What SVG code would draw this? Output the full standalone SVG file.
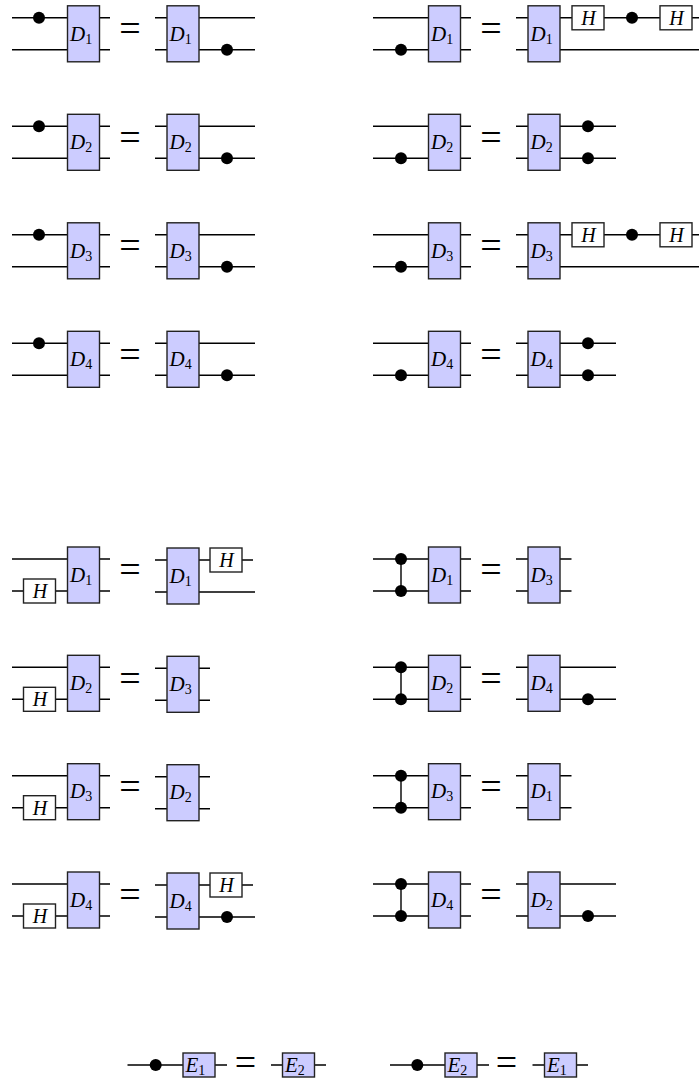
<svg xmlns="http://www.w3.org/2000/svg" width="699" height="1083" viewBox="0 0 699 1083">
<style>
.w{stroke:#000;stroke-width:1.4;fill:none}
.g{fill:#ccccff;stroke:#222;stroke-width:1.4}
.h{fill:#fff;stroke:#222;stroke-width:1.4}
.d{fill:#000}
.t{font-family:"Liberation Serif",serif;font-style:italic;font-size:21px;fill:#000}
.hl{text-anchor:middle;font-size:20px}
.s{font-style:normal;font-size:14px}
.eq{font-family:"Liberation Serif",serif;font-size:38px;text-anchor:middle;fill:#000}
</style>
<rect width="699" height="1083" fill="#fff"/>
<g id="wires" class="w">
<path d="M12 17.8H67.5M12 49.8H67.5M99.5 17.8H110M99.5 49.8H110M155 17.8H167M155 49.8H167M199 17.8H255M199 49.8H255"/>
<path d="M12 126.3H67.5M12 158.3H67.5M99.5 126.3H110M99.5 158.3H110M155 126.3H167M155 158.3H167M199 126.3H255M199 158.3H255"/>
<path d="M12 234.8H67.5M12 266.8H67.5M99.5 234.8H110M99.5 266.8H110M155 234.8H167M155 266.8H167M199 234.8H255M199 266.8H255"/>
<path d="M12 343.3H67.5M12 375.3H67.5M99.5 343.3H110M99.5 375.3H110M155 343.3H167M155 375.3H167M199 343.3H255M199 375.3H255"/>
<path d="M373 17.8H428.5M373 49.8H428.5M460.5 17.8H471M460.5 49.8H471M516 17.8H528M516 49.8H528M560 17.8H572M604 17.8H660M692 17.8H700M560 49.8H700"/>
<path d="M373 126.3H428.5M373 158.3H428.5M460.5 126.3H471M460.5 158.3H471M516 126.3H528M516 158.3H528M560 126.3H616M560 158.3H616"/>
<path d="M373 234.8H428.5M373 266.8H428.5M460.5 234.8H471M460.5 266.8H471M516 234.8H528M516 266.8H528M560 234.8H572M604 234.8H660M692 234.8H700M560 266.8H700"/>
<path d="M373 343.3H428.5M373 375.3H428.5M460.5 343.3H471M460.5 375.3H471M516 343.3H528M516 375.3H528M560 343.3H616M560 375.3H616"/>
<path d="M12 559H67.5M12 591H23.5M55.5 591H67.5M99.5 559H110M99.5 591H110M155 560H167M155 592H167M199 560H210M242 560H253M199 592H255"/>
<path d="M12 667.3H67.5M12 699.3H23.5M55.5 699.3H67.5M99.5 667.3H110M99.5 699.3H110M155 668.3H167M155 700.3H167M199 668.3H210M199 700.3H210"/>
<path d="M12 775.7H67.5M12 807.7H23.5M55.5 807.7H67.5M99.5 775.7H110M99.5 807.7H110M155 776.7H167M155 808.7H167M199 776.7H210M199 808.7H210"/>
<path d="M12 884H67.5M12 916H23.5M55.5 916H67.5M99.5 884H110M99.5 916H110M155 885H167M155 917H167M199 885H210M242 885H253M199 917H255"/>
<path d="M373 559H428.5M373 591H428.5M401 559V591M460.5 559H471M460.5 591H471M516 559H528M516 591H528M560 559H571.5M560 591H571.5"/>
<path d="M373 667.3H428.5M373 699.3H428.5M401 667.3V699.3M460.5 667.3H471M460.5 699.3H471M516 667.3H528M516 699.3H528M560 667.3H616M560 699.3H616"/>
<path d="M373 775.7H428.5M373 807.7H428.5M401 775.7V807.7M460.5 775.7H471M460.5 807.7H471M516 775.7H528M516 807.7H528M560 775.7H571.5M560 807.7H571.5"/>
<path d="M373 884H428.5M373 916H428.5M401 884V916M460.5 884H471M460.5 916H471M516 884H528M516 916H528M560 884H616M560 916H616"/>
<path d="M127.5 1065H183M215 1065H227M271 1065H282.5M314.5 1065H326"/>
<path d="M390 1065H445M477 1065H489M532.5 1065H544.5M576.5 1065H588"/>
</g>

<!-- top-left -->
<g id="eq-tl1">
<circle id="tl1-c1" class="d" cx="39" cy="17.8" r="6"/>
<g id="tl1-D1a"><rect class="g" x="67.5" y="5.8" width="32" height="56"/><text class="t" x="70" y="40.5">D<tspan class="s" dy="3">1</tspan></text></g>
<text class="eq" x="130" y="41">=</text>
<g id="tl1-D1b"><rect class="g" x="167" y="5.8" width="32" height="56"/><text class="t" x="169.5" y="40.5">D<tspan class="s" dy="3">1</tspan></text></g>
<circle id="tl1-c2" class="d" cx="227" cy="49.8" r="6"/>
</g>
<g id="eq-tl2">
<circle id="tl2-c1" class="d" cx="39" cy="126.3" r="6"/>
<g id="tl2-D2a"><rect class="g" x="67.5" y="114.3" width="32" height="56"/><text class="t" x="70" y="149">D<tspan class="s" dy="3">2</tspan></text></g>
<text class="eq" x="130" y="149.5">=</text>
<g id="tl2-D2b"><rect class="g" x="167" y="114.3" width="32" height="56"/><text class="t" x="169.5" y="149">D<tspan class="s" dy="3">2</tspan></text></g>
<circle id="tl2-c2" class="d" cx="227" cy="158.3" r="6"/>
</g>
<g id="eq-tl3">
<circle id="tl3-c1" class="d" cx="39" cy="234.8" r="6"/>
<g id="tl3-D3a"><rect class="g" x="67.5" y="222.8" width="32" height="56"/><text class="t" x="70" y="257.5">D<tspan class="s" dy="3">3</tspan></text></g>
<text class="eq" x="130" y="258">=</text>
<g id="tl3-D3b"><rect class="g" x="167" y="222.8" width="32" height="56"/><text class="t" x="169.5" y="257.5">D<tspan class="s" dy="3">3</tspan></text></g>
<circle id="tl3-c2" class="d" cx="227" cy="266.8" r="6"/>
</g>
<g id="eq-tl4">
<circle id="tl4-c1" class="d" cx="39" cy="343.3" r="6"/>
<g id="tl4-D4a"><rect class="g" x="67.5" y="331.3" width="32" height="56"/><text class="t" x="70" y="366">D<tspan class="s" dy="3">4</tspan></text></g>
<text class="eq" x="130" y="366.5">=</text>
<g id="tl4-D4b"><rect class="g" x="167" y="331.3" width="32" height="56"/><text class="t" x="169.5" y="366">D<tspan class="s" dy="3">4</tspan></text></g>
<circle id="tl4-c2" class="d" cx="227" cy="375.3" r="6"/>
</g>

<!-- top-right -->
<g id="eq-tr1">
<circle id="tr1-c1" class="d" cx="401" cy="49.8" r="6"/>
<g id="tr1-D1a"><rect class="g" x="428.5" y="5.8" width="32" height="56"/><text class="t" x="431" y="40.5">D<tspan class="s" dy="3">1</tspan></text></g>
<text class="eq" x="491" y="41">=</text>
<g id="tr1-D1b"><rect class="g" x="528" y="5.8" width="32" height="56"/><text class="t" x="530.5" y="40.5">D<tspan class="s" dy="3">1</tspan></text></g>
<g id="tr1-H1"><rect class="h" x="572" y="5.8" width="32" height="24"/><text class="t hl" x="588.5" y="24.8">H</text></g>
<circle id="tr1-c2" class="d" cx="632" cy="17.8" r="6"/>
<g id="tr1-H2"><rect class="h" x="660" y="5.8" width="32" height="24"/><text class="t hl" x="676.5" y="24.8">H</text></g>
</g>
<g id="eq-tr2">
<circle id="tr2-c1" class="d" cx="401" cy="158.3" r="6"/>
<g id="tr2-D2a"><rect class="g" x="428.5" y="114.3" width="32" height="56"/><text class="t" x="431" y="149">D<tspan class="s" dy="3">2</tspan></text></g>
<text class="eq" x="491" y="149.5">=</text>
<g id="tr2-D2b"><rect class="g" x="528" y="114.3" width="32" height="56"/><text class="t" x="530.5" y="149">D<tspan class="s" dy="3">2</tspan></text></g>
<circle id="tr2-c2" class="d" cx="588" cy="126.3" r="6"/>
<circle id="tr2-c3" class="d" cx="588" cy="158.3" r="6"/>
</g>
<g id="eq-tr3">
<circle id="tr3-c1" class="d" cx="401" cy="266.8" r="6"/>
<g id="tr3-D3a"><rect class="g" x="428.5" y="222.8" width="32" height="56"/><text class="t" x="431" y="257.5">D<tspan class="s" dy="3">3</tspan></text></g>
<text class="eq" x="491" y="258">=</text>
<g id="tr3-D3b"><rect class="g" x="528" y="222.8" width="32" height="56"/><text class="t" x="530.5" y="257.5">D<tspan class="s" dy="3">3</tspan></text></g>
<g id="tr3-H1"><rect class="h" x="572" y="222.8" width="32" height="24"/><text class="t hl" x="588.5" y="241.8">H</text></g>
<circle id="tr3-c2" class="d" cx="632" cy="234.8" r="6"/>
<g id="tr3-H2"><rect class="h" x="660" y="222.8" width="32" height="24"/><text class="t hl" x="676.5" y="241.8">H</text></g>
</g>
<g id="eq-tr4">
<circle id="tr4-c1" class="d" cx="401" cy="375.3" r="6"/>
<g id="tr4-D4a"><rect class="g" x="428.5" y="331.3" width="32" height="56"/><text class="t" x="431" y="366">D<tspan class="s" dy="3">4</tspan></text></g>
<text class="eq" x="491" y="366.5">=</text>
<g id="tr4-D4b"><rect class="g" x="528" y="331.3" width="32" height="56"/><text class="t" x="530.5" y="366">D<tspan class="s" dy="3">4</tspan></text></g>
<circle id="tr4-c2" class="d" cx="588" cy="343.3" r="6"/>
<circle id="tr4-c3" class="d" cx="588" cy="375.3" r="6"/>
</g>

<!-- bottom-left -->
<g id="eq-bl1">
<g id="bl1-H1"><rect class="h" x="23.5" y="579" width="32" height="24"/><text class="t hl" x="40" y="598">H</text></g>
<g id="bl1-D1a"><rect class="g" x="67.5" y="547" width="32" height="56"/><text class="t" x="70" y="581.7">D<tspan class="s" dy="3">1</tspan></text></g>
<text class="eq" x="130" y="582.2">=</text>
<g id="bl1-D1b"><rect class="g" x="167" y="548" width="32" height="56"/><text class="t" x="169.5" y="582.7">D<tspan class="s" dy="3">1</tspan></text></g>
<g id="bl1-H2"><rect class="h" x="210" y="548" width="32" height="24"/><text class="t hl" x="226.5" y="567">H</text></g>
</g>
<g id="eq-bl2">
<g id="bl2-H1"><rect class="h" x="23.5" y="687.3" width="32" height="24"/><text class="t hl" x="40" y="706.3">H</text></g>
<g id="bl2-D2"><rect class="g" x="67.5" y="655.3" width="32" height="56"/><text class="t" x="70" y="690">D<tspan class="s" dy="3">2</tspan></text></g>
<text class="eq" x="130" y="690.5">=</text>
<g id="bl2-D3"><rect class="g" x="167" y="656.3" width="32" height="56"/><text class="t" x="169.5" y="691">D<tspan class="s" dy="3">3</tspan></text></g>
</g>
<g id="eq-bl3">
<g id="bl3-H1"><rect class="h" x="23.5" y="795.7" width="32" height="24"/><text class="t hl" x="40" y="814.7">H</text></g>
<g id="bl3-D3"><rect class="g" x="67.5" y="763.7" width="32" height="56"/><text class="t" x="70" y="798.4">D<tspan class="s" dy="3">3</tspan></text></g>
<text class="eq" x="130" y="798.9">=</text>
<g id="bl3-D2"><rect class="g" x="167" y="764.7" width="32" height="56"/><text class="t" x="169.5" y="799.4">D<tspan class="s" dy="3">2</tspan></text></g>
</g>
<g id="eq-bl4">
<g id="bl4-H1"><rect class="h" x="23.5" y="904" width="32" height="24"/><text class="t hl" x="40" y="923">H</text></g>
<g id="bl4-D4a"><rect class="g" x="67.5" y="872" width="32" height="56"/><text class="t" x="70" y="906.7">D<tspan class="s" dy="3">4</tspan></text></g>
<text class="eq" x="130" y="907.2">=</text>
<g id="bl4-D4b"><rect class="g" x="167" y="873" width="32" height="56"/><text class="t" x="169.5" y="907.7">D<tspan class="s" dy="3">4</tspan></text></g>
<g id="bl4-H2"><rect class="h" x="210" y="873" width="32" height="24"/><text class="t hl" x="226.5" y="892">H</text></g>
<circle id="bl4-c1" class="d" cx="227" cy="917" r="6"/>
</g>

<!-- bottom-right -->
<g id="eq-br1">
<circle id="br1-c1" class="d" cx="401" cy="559" r="6"/>
<circle id="br1-c2" class="d" cx="401" cy="591" r="6"/>
<g id="br1-D1"><rect class="g" x="428.5" y="547" width="32" height="56"/><text class="t" x="431" y="581.7">D<tspan class="s" dy="3">1</tspan></text></g>
<text class="eq" x="491" y="582.2">=</text>
<g id="br1-D3"><rect class="g" x="528" y="547" width="32" height="56"/><text class="t" x="530.5" y="581.7">D<tspan class="s" dy="3">3</tspan></text></g>
</g>
<g id="eq-br2">
<circle id="br2-c1" class="d" cx="401" cy="667.3" r="6"/>
<circle id="br2-c2" class="d" cx="401" cy="699.3" r="6"/>
<g id="br2-D2"><rect class="g" x="428.5" y="655.3" width="32" height="56"/><text class="t" x="431" y="690">D<tspan class="s" dy="3">2</tspan></text></g>
<text class="eq" x="491" y="690.5">=</text>
<g id="br2-D4"><rect class="g" x="528" y="655.3" width="32" height="56"/><text class="t" x="530.5" y="690">D<tspan class="s" dy="3">4</tspan></text></g>
<circle id="br2-c3" class="d" cx="588" cy="699.3" r="6"/>
</g>
<g id="eq-br3">
<circle id="br3-c1" class="d" cx="401" cy="775.7" r="6"/>
<circle id="br3-c2" class="d" cx="401" cy="807.7" r="6"/>
<g id="br3-D3"><rect class="g" x="428.5" y="763.7" width="32" height="56"/><text class="t" x="431" y="798.4">D<tspan class="s" dy="3">3</tspan></text></g>
<text class="eq" x="491" y="798.9">=</text>
<g id="br3-D1"><rect class="g" x="528" y="763.7" width="32" height="56"/><text class="t" x="530.5" y="798.4">D<tspan class="s" dy="3">1</tspan></text></g>
</g>
<g id="eq-br4">
<circle id="br4-c1" class="d" cx="401" cy="884" r="6"/>
<circle id="br4-c2" class="d" cx="401" cy="916" r="6"/>
<g id="br4-D4"><rect class="g" x="428.5" y="872" width="32" height="56"/><text class="t" x="431" y="906.7">D<tspan class="s" dy="3">4</tspan></text></g>
<text class="eq" x="491" y="907.2">=</text>
<g id="br4-D2"><rect class="g" x="528" y="872" width="32" height="56"/><text class="t" x="530.5" y="906.7">D<tspan class="s" dy="3">2</tspan></text></g>
<circle id="br4-c3" class="d" cx="588" cy="916" r="6"/>
</g>

<!-- E row -->
<g id="eq-e1">
<circle id="e1-c1" class="d" cx="155.7" cy="1065" r="6"/>
<g id="e1-E1"><rect class="g" x="183" y="1053" width="32" height="24"/><text class="t" x="185.5" y="1071.5">E<tspan class="s" dy="3">1</tspan></text></g>
<text class="eq" x="245.5" y="1074.5">=</text>
<g id="e1-E2"><rect class="g" x="282.5" y="1053" width="32" height="24"/><text class="t" x="285" y="1071.5">E<tspan class="s" dy="3">2</tspan></text></g>
</g>
<g id="eq-e2">
<circle id="e2-c1" class="d" cx="417.3" cy="1065" r="6"/>
<g id="e2-E2"><rect class="g" x="445" y="1053" width="32" height="24"/><text class="t" x="447.5" y="1071.5">E<tspan class="s" dy="3">2</tspan></text></g>
<text class="eq" x="506.5" y="1074.5">=</text>
<g id="e2-E1"><rect class="g" x="544.5" y="1053" width="32" height="24"/><text class="t" x="547" y="1071.5">E<tspan class="s" dy="3">1</tspan></text></g>
</g>
</svg>
